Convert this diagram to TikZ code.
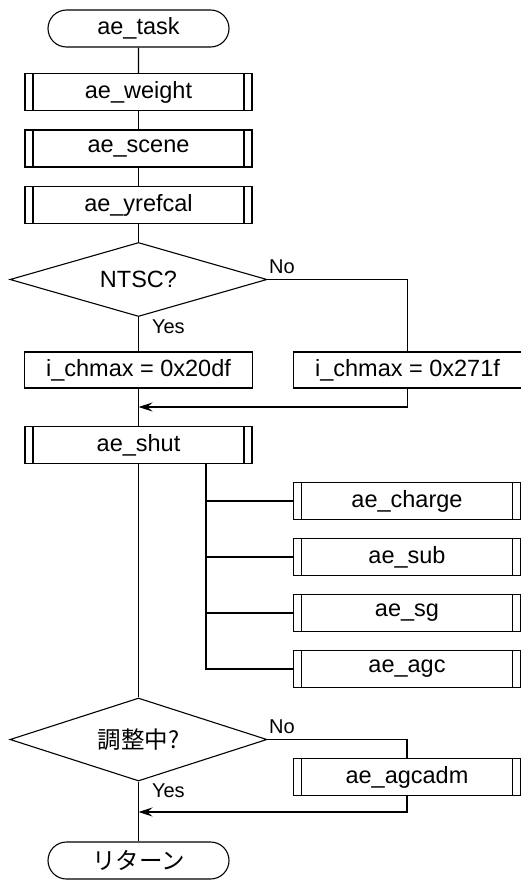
\documentclass[tikz,border=0pt]{standalone}
\usepackage{fontspec}
\setmainfont{Liberation Sans}
\newfontfamily\jpfont{Noto Sans CJK JP}
\usetikzlibrary{shapes.geometric,shapes.misc,arrows.meta}

\tikzset{
  term/.style={rounded rectangle, draw, minimum width=181pt, minimum height=37pt, inner sep=0pt},
  subr/.style={rectangle, draw, minimum width=227pt, minimum height=37pt, inner sep=0pt,
    path picture={
      \draw ([xshift=8pt]path picture bounding box.north west) -- ([xshift=8pt]path picture bounding box.south west);
      \draw ([xshift=-8pt]path picture bounding box.north east) -- ([xshift=-8pt]path picture bounding box.south east);
    }},
  proc/.style={rectangle, draw, minimum width=228pt, minimum height=36pt, inner sep=0pt},
  decide/.style={diamond, draw, aspect=3.47, minimum width=257pt, minimum height=74pt, inner sep=0pt},
  lbl/.style={font=\fontsize{20}{24}\selectfont, inner sep=1pt},
  arr/.style={-{Stealth[length=14pt, width=9pt, inset=5pt]}}
}

\begin{document}
\begin{tikzpicture}[x=1pt, y=-1pt, line width=1.1pt, font=\fontsize{23.5}{28}\selectfont]
  \useasboundingbox (0,0) rectangle (521,880);
  \draw
    (138.5,28.5) node[term] (task){ae\_task}
    (138.5,92) node[subr] (weight){ae\_weight}
    (138.5,148.5) node[subr] (scene){ae\_scene}
    (138.5,205) node[subr] (yrefcal){ae\_yrefcal}
    (138.5,279.5) node[decide] (ntsc){NTSC?}
    (138.5,370) node[proc] (chA){i\_chmax = 0x20df}
    (407.5,370) node[proc] (chB){i\_chmax = 0x271f}
    (138.5,445) node[subr] (shut){ae\_shut}
    (407,501) node[subr] (charge){ae\_charge}
    (407,557) node[subr] (sub){ae\_sub}
    (407,613) node[subr] (sg){ae\_sg}
    (407,669) node[subr] (agc){ae\_agc}
    (138.5,739.5) node[decide, aspect=3.1, minimum height=83pt] (adj){\jpfont 調整中?}
    (407,777) node[subr] (agcadm){ae\_agcadm}
    (138.5,860.5) node[term] (ret){\jpfont リターン};
  \coordinate (joinA) at (138.5,407);
  \coordinate (joinB) at (138.5,812);
  \coordinate (fork) at (206,463);
  \node[lbl, anchor=south west] (noA) at ([yshift=4pt]ntsc.east) {No};
  \node[lbl, anchor=north west] (yesA) at ([xshift=12pt,yshift=-1pt]ntsc.south) {Yes};
  \node[lbl, anchor=south west] (noB) at ([yshift=4pt]adj.east) {No};
  \node[lbl, anchor=north west] (yesB) at ([xshift=12pt,yshift=-1pt]adj.south) {Yes};
  \begin{scope}[-]
    \draw (task) -- (weight);
    \draw (weight) -- (scene);
    \draw (scene) -- (yrefcal);
    \draw (yrefcal) -- (ntsc);
    \draw (ntsc) -- (chA);
    \draw (ntsc.east) -| (chB);
    \draw (chA) -- (shut);
    \draw[arr] (chB) |- (joinA);
    \draw (fork) |- (agc);
    \draw (fork |- charge) -- (charge);
    \draw (fork |- sub) -- (sub);
    \draw (fork |- sg) -- (sg);
    \draw (shut) -- (adj);
    \draw (adj.east) -| (agcadm);
    \draw (adj) -- (ret);
    \draw[arr] (agcadm) |- (joinB);
  \end{scope}
\end{tikzpicture}
\end{document}
